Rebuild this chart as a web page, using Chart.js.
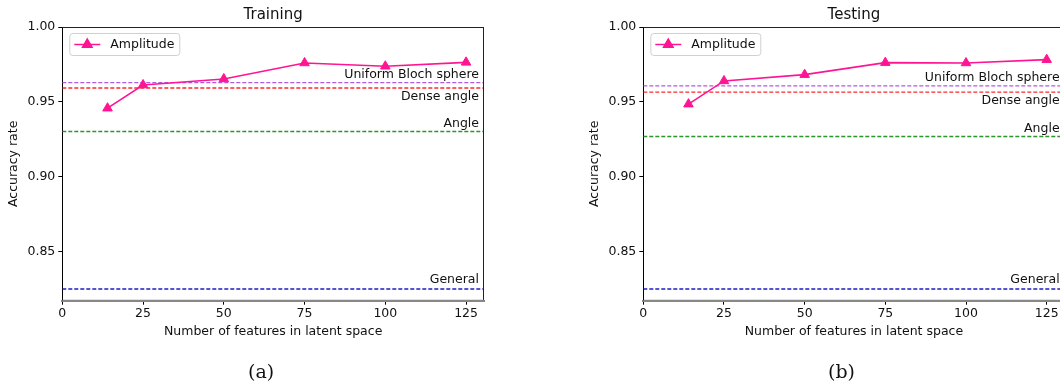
<!DOCTYPE html>
<html>
<head>
<meta charset="utf-8">
<script src="https://cdn.jsdelivr.net/npm/chart.js@4.4.0/dist/chart.umd.min.js"></script>
<style>
  html, body { margin:0; padding:0; background:#fff; width:1060px; height:387px; overflow:hidden; }
  .wrap { position:absolute; top:0; width:540px; height:387px; }
  .cap { position:absolute; top:360px; font-family:"DejaVu Serif", serif; font-size:19px; color:#111; }
</style>
</head>
<body>
<div class="wrap" style="left:0"><canvas id="train" width="540" height="387"></canvas></div>
<div class="wrap" style="left:580px"><canvas id="test" width="540" height="387"></canvas></div>
<div class="cap" style="left:248px">(a)</div>
<div class="cap" style="left:828px">(b)</div>
<script>
// Data
const features = [14, 25, 50, 75, 100, 125];
const trainAmplitude = [0.9458, 0.9613, 0.9653, 0.9760, 0.9738, 0.9764];
const testAmplitude  = [0.9485, 0.9640, 0.9682, 0.9762, 0.9760, 0.9782];

const baselineNames  = ['Uniform Bloch sphere', 'Dense angle', 'Angle', 'General'];
const baselineColors = ['#b05ae6', '#ff2a2a', '#2a962a', '#1e1ec4'];
const trainBaselines = [0.9629, 0.9593, 0.9302, 0.8251];
const testBaselines  = [0.9607, 0.9565, 0.9269, 0.8251];
// label above (-) or below (+) the line
const labelOffsets   = [-8, 9, -8, -9];

const xTicks = [0, 25, 50, 75, 100, 125];
const yTicks = [0.85, 0.90, 0.95, 1.00];
const xMin = 0, xMax = 130.55, yMin = 0.8173, yMax = 1.0;

const FONT = 'DejaVu Sans';
const FS = 12.5;
const PINK = '#ff1493';

const decor = {
  id: 'decor',
  afterDatasetsDraw(chart, args, opts) {
    const {ctx, chartArea: a, scales} = chart;
    ctx.save();
    // baseline labels
    ctx.font = FS + 'px "' + FONT + '"';
    ctx.fillStyle = '#111';
    ctx.textAlign = 'right';
    ctx.textBaseline = 'middle';
    opts.baselines.forEach((v, i) => {
      ctx.fillText(baselineNames[i], a.right - 5, scales.y.getPixelForValue(v) + labelOffsets[i]);
    });
    // spines
    ctx.strokeStyle = '#222';
    ctx.lineWidth = 1;
    ctx.beginPath();
    ctx.moveTo(a.left, a.top + 0.5); ctx.lineTo(a.right, a.top + 0.5);
    ctx.moveTo(a.right - 0.5, a.top); ctx.lineTo(a.right - 0.5, a.bottom);
    ctx.stroke();
    ctx.strokeStyle = '#888';
    ctx.lineWidth = 2;
    ctx.beginPath();
    ctx.moveTo(a.left, a.bottom); ctx.lineTo(a.right, a.bottom);
    ctx.stroke();
    // title
    ctx.font = '15px "' + FONT + '"';
    ctx.textAlign = 'center';
    ctx.fillStyle = '#111';
    ctx.fillText(opts.title, (a.left + a.right) / 2, 15);
    // legend
    const lx = a.left + 7, ly = a.top + 6, lw = 110, lh = 22;
    ctx.fillStyle = 'rgba(255,255,255,0.85)';
    ctx.strokeStyle = '#d0d0d0';
    ctx.lineWidth = 1;
    ctx.beginPath();
    ctx.roundRect(lx + 0.5, ly + 0.5, lw, lh, 3);
    ctx.fill(); ctx.stroke();
    const my = ly + 11.5;
    ctx.strokeStyle = PINK;
    ctx.lineWidth = 1.5;
    ctx.beginPath(); ctx.moveTo(lx + 5, my); ctx.lineTo(lx + 31, my); ctx.stroke();
    ctx.fillStyle = PINK;
    Chart.helpers.drawPoint(ctx, {pointStyle: 'triangle', radius: 5.5, borderWidth: 1}, lx + 18, my);
    ctx.fill();
    ctx.fillStyle = '#111';
    ctx.font = FS + 'px "' + FONT + '"';
    ctx.textAlign = 'left';
    ctx.fillText('Amplitude', lx + 41, my);
    ctx.restore();
  }
};

function makeChart(id, title, amplitude, baselines, yAxisWidth, padRight, yTitlePad) {
  const datasets = [{
    label: 'Amplitude',
    data: features.map((f, i) => ({x: f, y: amplitude[i]})),
    borderColor: PINK,
    backgroundColor: PINK,
    borderWidth: 1.6,
    pointStyle: 'triangle',
    pointRadius: 5.5,
    pointBorderWidth: 1,
    order: 0
  }];
  baselines.forEach((v, i) => {
    datasets.push({
      label: baselineNames[i],
      data: [{x: xMin, y: v}, {x: xMax, y: v}],
      borderColor: baselineColors[i],
      borderWidth: 1.4,
      borderDash: [4, 2],
      pointRadius: 0,
      order: 1
    });
  });
  return new Chart(document.getElementById(id), {
    type: 'line',
    data: { datasets },
    options: {
      responsive: false,
      animation: false,
      layout: { padding: { top: 27, right: padRight, bottom: 47.8, left: 0 } },
      plugins: {
        legend: { display: false },
        tooltip: { enabled: false },
        decor: { title, baselines }
      },
      scales: {
        x: {
          type: 'linear', min: xMin, max: xMax,
          afterBuildTicks: s => { s.ticks = xTicks.map(v => ({value: v})); },
          afterFit: s => { s.height = 38.5; },
          grid: { drawOnChartArea: false, drawTicks: true, tickLength: 4, color: '#000' },
          border: { color: '#888', width: 2 },
          ticks: { color: '#111', font: { family: FONT, size: FS }, padding: 2, maxRotation: 0 },
          title: { display: true, text: 'Number of features in latent space', color: '#111',
                   font: { family: FONT, size: FS }, padding: { top: 0, bottom: 0 } }
        },
        y: {
          type: 'linear', min: yMin, max: yMax,
          afterBuildTicks: s => { s.ticks = yTicks.map(v => ({value: v})); },
          afterFit: s => { s.width = yAxisWidth; },
          grid: { drawOnChartArea: false, drawTicks: true, tickLength: 4, color: '#000' },
          border: { color: '#000', width: 1 },
          ticks: { color: '#111', font: { family: FONT, size: FS }, padding: 3,
                   callback: v => v.toFixed(2) },
          title: { display: true, text: 'Accuracy rate', color: '#111',
                   font: { family: FONT, size: FS }, padding: { top: yTitlePad, bottom: 0 } }
        }
      }
    },
    plugins: [decor]
  });
}

makeChart('train', 'Training', trainAmplitude, trainBaselines, 62.3, 56, 6.5);
makeChart('test', 'Testing', testAmplitude, testBaselines, 63.3, 55.4, 7.5);
</script>
</body>
</html>
